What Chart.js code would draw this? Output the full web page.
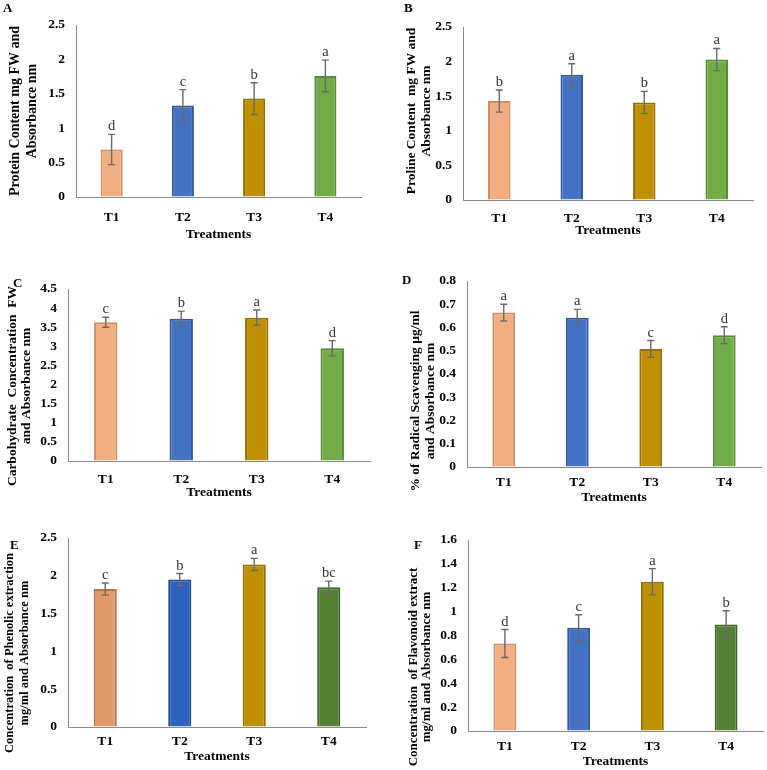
<!DOCTYPE html>
<html lang="en">
<head>
<meta charset="UTF-8">
<title>Treatment comparison</title>
<script src="https://cdn.jsdelivr.net/npm/chart.js"></script>
<style>
  body { margin: 0; background: #fff; }
  #wrap { position: relative; width: 767px; height: 770px; }
  .panel { position: absolute; }
  .tag { position: absolute; font: bold 13px "Liberation Serif", serif; line-height: 1; color: #000; }
</style>
</head>
<body>
<div id="wrap"></div>
<script>
// categories
const treatments = ['T1', 'T2', 'T3', 'T4'];

// A - protein
const proteinValues = [0.69, 1.33, 1.43, 1.76];
const proteinErrors = [0.22, 0.23, 0.23, 0.23];
const proteinLetters = ['d', 'c', 'b', 'a'];

// B - proline
const prolineValues = [1.43, 1.81, 1.41, 2.03];
const prolineErrors = [0.16, 0.16, 0.16, 0.16];
const prolineLetters = ['b', 'a', 'b', 'a'];

// C - carbohydrate
const carbValues = [3.63, 3.72, 3.75, 2.95];
const carbErrors = [0.13, 0.2, 0.2, 0.2];
const carbLetters = ['c', 'b', 'a', 'd'];

// D - radical scavenging
const scavValues = [0.664, 0.642, 0.508, 0.567];
const scavErrors = [0.036, 0.036, 0.036, 0.036];
const scavLetters = ['a', 'a', 'c', 'd'];

// E - phenolic
const phenolValues = [1.825, 1.95, 2.15, 1.85];
const phenolErrors = [0.08, 0.08, 0.08, 0.08];
const phenolLetters = ['c', 'b', 'a', 'bc'];

// F - flavonoid
const flavValues = [0.733, 0.864, 1.25, 0.893];
const flavErrors = [0.117, 0.11, 0.11, 0.114];
const flavLetters = ['d', 'c', 'a', 'b'];

const FONT = '"Liberation Serif", "Times New Roman", serif';
const lightFill = ['#F2AE80', '#4472C4', '#BF9000', '#70AD47'];
const lightEdge = ['#CE8E62', '#34599B', '#957000', '#578A38'];
const darkFill = ['#E39A6B', '#2F62BD', '#BF9000', '#548235'];
const darkEdge = ['#B27349', '#224A91', '#957000', '#40652A'];

// error bars + significance letters
const errorBars = {
  id: 'errorBars',
  afterDatasetsDraw(chart, args, opts) {
    const ctx = chart.ctx;
    const y = chart.scales.y;
    const vals = chart.data.datasets[0].data;
    ctx.save();
    chart.getDatasetMeta(0).data.forEach((bar, i) => {
      const top = y.getPixelForValue(vals[i] + opts.errors[i]);
      const bot = y.getPixelForValue(vals[i] - opts.errors[i]);
      ctx.strokeStyle = '#6a6a6a';
      ctx.lineWidth = 1.4;
      ctx.beginPath();
      ctx.moveTo(bar.x, top); ctx.lineTo(bar.x, bot);
      ctx.moveTo(bar.x - 3.5, top); ctx.lineTo(bar.x + 3.5, top);
      ctx.moveTo(bar.x - 3.5, bot); ctx.lineTo(bar.x + 3.5, bot);
      ctx.stroke();
      ctx.fillStyle = '#333';
      ctx.font = '14.5px ' + FONT;
      ctx.textAlign = 'center';
      ctx.textBaseline = 'alphabetic';
      ctx.fillText(opts.letters[i], bar.x, top - 4);
    });
    ctx.restore();
  }
};

// two-line rotated y title
const yTitle = {
  id: 'yTitle',
  afterDraw(chart, args, opts) {
    const ctx = chart.ctx;
    ctx.save();
    ctx.font = 'bold ' + opts.size + 'px ' + FONT;
    ctx.fillStyle = '#000';
    ctx.textAlign = 'center';
    ctx.textBaseline = 'middle';
    opts.lines.forEach((t, k) => {
      ctx.save();
      ctx.translate(opts.x + k * opts.gap, opts.y);
      ctx.rotate(-Math.PI / 2);
      ctx.fillText(t, 0, 0);
      ctx.restore();
    });
    ctx.restore();
  }
};

function makePanel(p) {
  const wrap = document.getElementById('wrap');
  const [bx, by, bw, bh] = p.box;
  const [pl, pt, pr, pb] = p.plot;

  const holder = document.createElement('div');
  holder.className = 'panel';
  holder.style.left = bx + 'px';
  holder.style.top = by + 'px';
  holder.style.width = bw + 'px';
  holder.style.height = bh + 'px';
  const canvas = document.createElement('canvas');
  holder.appendChild(canvas);
  wrap.appendChild(holder);

  const tag = document.createElement('div');
  tag.className = 'tag';
  tag.textContent = p.tag;
  tag.style.left = p.tagPos[0] + 'px';
  tag.style.top = p.tagPos[1] + 'px';
  wrap.appendChild(tag);

  const xBoxH = p.xTitleY - pb + 8;

  new Chart(canvas, {
    type: 'bar',
    data: {
      labels: treatments,
      datasets: [{
        data: p.values,
        backgroundColor: p.fill,
        borderColor: p.edge,
        borderWidth: 2,
        barPercentage: 0.31,
        categoryPercentage: 1
      }]
    },
    options: {
      responsive: true,
      maintainAspectRatio: false,
      animation: false,
      layout: {
        padding: { left: 0, top: pt - by, right: bx + bw - pr, bottom: by + bh - pb - xBoxH }
      },
      plugins: {
        legend: { display: false },
        tooltip: { enabled: false },
        errorBars: { errors: p.errors, letters: p.letters },
        yTitle: { lines: p.title, size: p.titleSize, x: p.titleX - bx, y: p.titleY - by, gap: p.titleGap }
      },
      scales: {
        x: {
          grid: { display: true, drawOnChartArea: false, drawTicks: false },
          border: { color: '#8a8a8a', width: 1 },
          ticks: { color: '#000', font: { family: FONT, size: 13.5, weight: 'bold' }, padding: p.xTickPad },
          title: { display: true, text: 'Treatments', color: '#000', font: { family: FONT, size: 13.5, weight: 'bold' }, padding: 0 },
          afterFit: s => { s.height = xBoxH; }
        },
        y: {
          min: 0,
          max: p.max,
          grid: { display: true, drawOnChartArea: false, drawTicks: false },
          border: { color: '#8a8a8a', width: 1 },
          ticks: {
            stepSize: p.step,
            autoSkip: false,
            color: '#000',
            padding: 11,
            font: { family: FONT, size: 13.5, weight: 'bold' },
            callback: v => String(+v.toFixed(2))
          },
          afterFit: s => { s.width = pl - bx; }
        }
      }
    },
    plugins: [errorBars, yTitle]
  });
}

makePanel({
  tag: 'A', tagPos: [3, 0.7], box: [0, 0, 384, 250], plot: [76, 25, 361, 197],
  values: proteinValues, errors: proteinErrors, letters: proteinLetters, max: 2.5, step: 0.5,
  fill: lightFill, edge: lightEdge,
  title: ['Protein Content mg FW and', 'Absorbance nm'], titleSize: 14, titleX: 15, titleY: 111, titleGap: 17,
  xTickPad: 12, xTitleY: 235
});
makePanel({
  tag: 'B', tagPos: [404, 0.7], box: [384, 0, 383, 250], plot: [463, 27, 753, 200],
  values: prolineValues, errors: prolineErrors, letters: prolineLetters, max: 2.5, step: 0.5,
  fill: lightFill, edge: lightEdge,
  title: ['Proline Content  mg FW and', 'Absorbance nm'], titleSize: 13.5, titleX: 412, titleY: 111, titleGap: 15,
  xTickPad: 10, xTitleY: 231
});
makePanel({
  tag: 'C', tagPos: [13, 275.7], box: [0, 250, 384, 260], plot: [68, 289, 370, 461],
  values: carbValues, errors: carbErrors, letters: carbLetters, max: 4.5, step: 0.5,
  fill: lightFill, edge: lightEdge,
  title: ['Carbohydrate  Concentration  FW', 'and Absorbance nm'], titleSize: 13.5, titleX: 13, titleY: 386, titleGap: 14,
  xTickPad: 10, xTitleY: 493
});
makePanel({
  tag: 'D', tagPos: [402, 272.7], box: [384, 250, 383, 260], plot: [467, 281, 761, 467],
  values: scavValues, errors: scavErrors, letters: scavLetters, max: 0.8, step: 0.1,
  fill: lightFill, edge: lightEdge,
  title: ['% of Radical Scavenging µg/ml', 'and Absorbance nm'], titleSize: 13.5, titleX: 416, titleY: 401, titleGap: 15,
  xTickPad: 7, xTitleY: 498
});
makePanel({
  tag: 'E', tagPos: [10, 537.7], box: [0, 510, 384, 260], plot: [68, 538, 366, 727],
  values: phenolValues, errors: phenolErrors, letters: phenolLetters, max: 2.5, step: 0.5,
  fill: darkFill, edge: darkEdge,
  title: ['Concentration  of Phenolic extraction', 'mg/ml and Absorbance nm'], titleSize: 12.5, titleX: 10, titleY: 653, titleGap: 15,
  xTickPad: 6, xTitleY: 757
});
makePanel({
  tag: 'F', tagPos: [414, 537.7], box: [384, 510, 383, 260], plot: [468, 540, 763, 731],
  values: flavValues, errors: flavErrors, letters: flavLetters, max: 1.6, step: 0.2,
  fill: lightFill.slice(0, 3).concat('#548235'), edge: lightEdge.slice(0, 3).concat('#40652A'),
  title: ['Concentration  of Flavonoid extract', 'mg/ml and Absorbance nm'], titleSize: 13, titleX: 414, titleY: 667, titleGap: 13,
  xTickPad: 7, xTitleY: 762
});
</script>
</body>
</html>
